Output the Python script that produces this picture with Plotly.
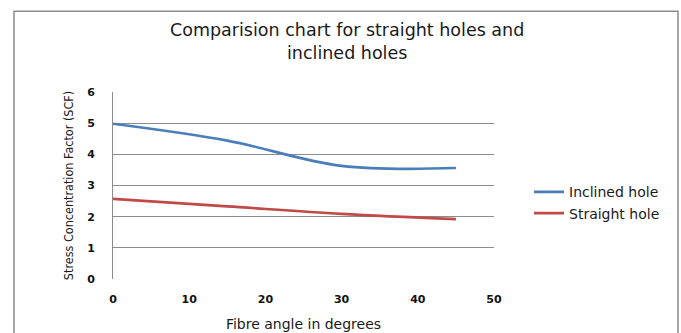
import plotly.graph_objects as go

# ---- data ----
fibre_angle = [0, 15, 30, 45]
inclined_hole = [4.98, 4.44, 3.63, 3.56]
straight_hole = [2.57, 2.33, 2.09, 1.92]
x_ticks = [0, 10, 20, 30, 40, 50]
y_ticks = [0, 1, 2, 3, 4, 5, 6]
title_text = "Comparision chart for straight holes and<br>inclined holes"

W, H = 681, 333
# plot area in pixels
PL, PR, PT, PB = 113, 494, 91.7, 278.7


def px_to_paper_x(px):
    return (px - PL) / (PR - PL)


def px_to_paper_y(py):
    return (PB - py) / (PB - PT)


fig = go.Figure()
fig.add_trace(go.Scatter(
    x=fibre_angle, y=inclined_hole, name="Inclined hole", mode="lines",
    line=dict(color="#4A7EBB", width=2.6, shape="spline", smoothing=1.0)))
fig.add_trace(go.Scatter(
    x=fibre_angle, y=straight_hole, name="Straight hole", mode="lines",
    line=dict(color="#BE4B48", width=2.6, shape="spline", smoothing=1.0)))

fig.update_layout(
    width=W, height=H,
    margin=dict(l=PL, r=W - PR, t=PT, b=H - PB, pad=0, autoexpand=False),
    paper_bgcolor="white", plot_bgcolor="white",
    legend=dict(
        x=px_to_paper_x(529), y=px_to_paper_y(176), xanchor="left", yanchor="top",
        font=dict(family="DejaVu Sans", size=14, color="#1a1a1a"),
        bgcolor="rgba(0,0,0,0)", itemwidth=30),
    showlegend=True,
)

# two-line chart title
fig.add_annotation(
    text=title_text, xref="paper", yref="paper",
    x=px_to_paper_x(346.5), y=px_to_paper_y(41.5),
    xanchor="center", yanchor="middle", align="center", showarrow=False,
    font=dict(family="DejaVu Sans", size=17.5, color="#1a1a1a"))

fig.update_xaxes(
    range=[0, 50], tickvals=x_ticks, ticktext=[str(v) for v in x_ticks],
    showgrid=False, zeroline=False, showline=False, ticks="", automargin=False,
    tickfont=dict(family="DejaVu Sans", size=11, color="#111", weight="bold"),
    ticklabelstandoff=12,
    title=dict(text="Fibre angle in degrees", standoff=14,
               font=dict(family="DejaVu Sans", size=14, color="#1a1a1a")),
)
fig.update_yaxes(
    range=[0, 6], tickvals=y_ticks, ticktext=[str(v) for v in y_ticks],
    showgrid=True, gridcolor="#8c8c8c", gridwidth=1, automargin=False,
    zeroline=False, showline=True, linecolor="#8c8c8c", linewidth=1, ticks="",
    tickfont=dict(family="DejaVu Sans", size=11, color="#111", weight="bold"),
    ticklabelstandoff=15,
    title=dict(text="Stress Concentration Factor (SCF)", standoff=10,
               font=dict(family="DejaVu Sans Condensed, Liberation Sans Narrow, Liberation Sans",
                         size=12.5, color="#1a1a1a")),
)

# outer chart border (bottom edge falls outside the image)
fig.add_shape(
    type="rect", xref="paper", yref="paper",
    x0=px_to_paper_x(14), x1=px_to_paper_x(678),
    y0=px_to_paper_y(345), y1=px_to_paper_y(11),
    line=dict(color="#8c8c8c", width=1.5), fillcolor="rgba(0,0,0,0)", layer="below")

fig.write_html("out.html")
